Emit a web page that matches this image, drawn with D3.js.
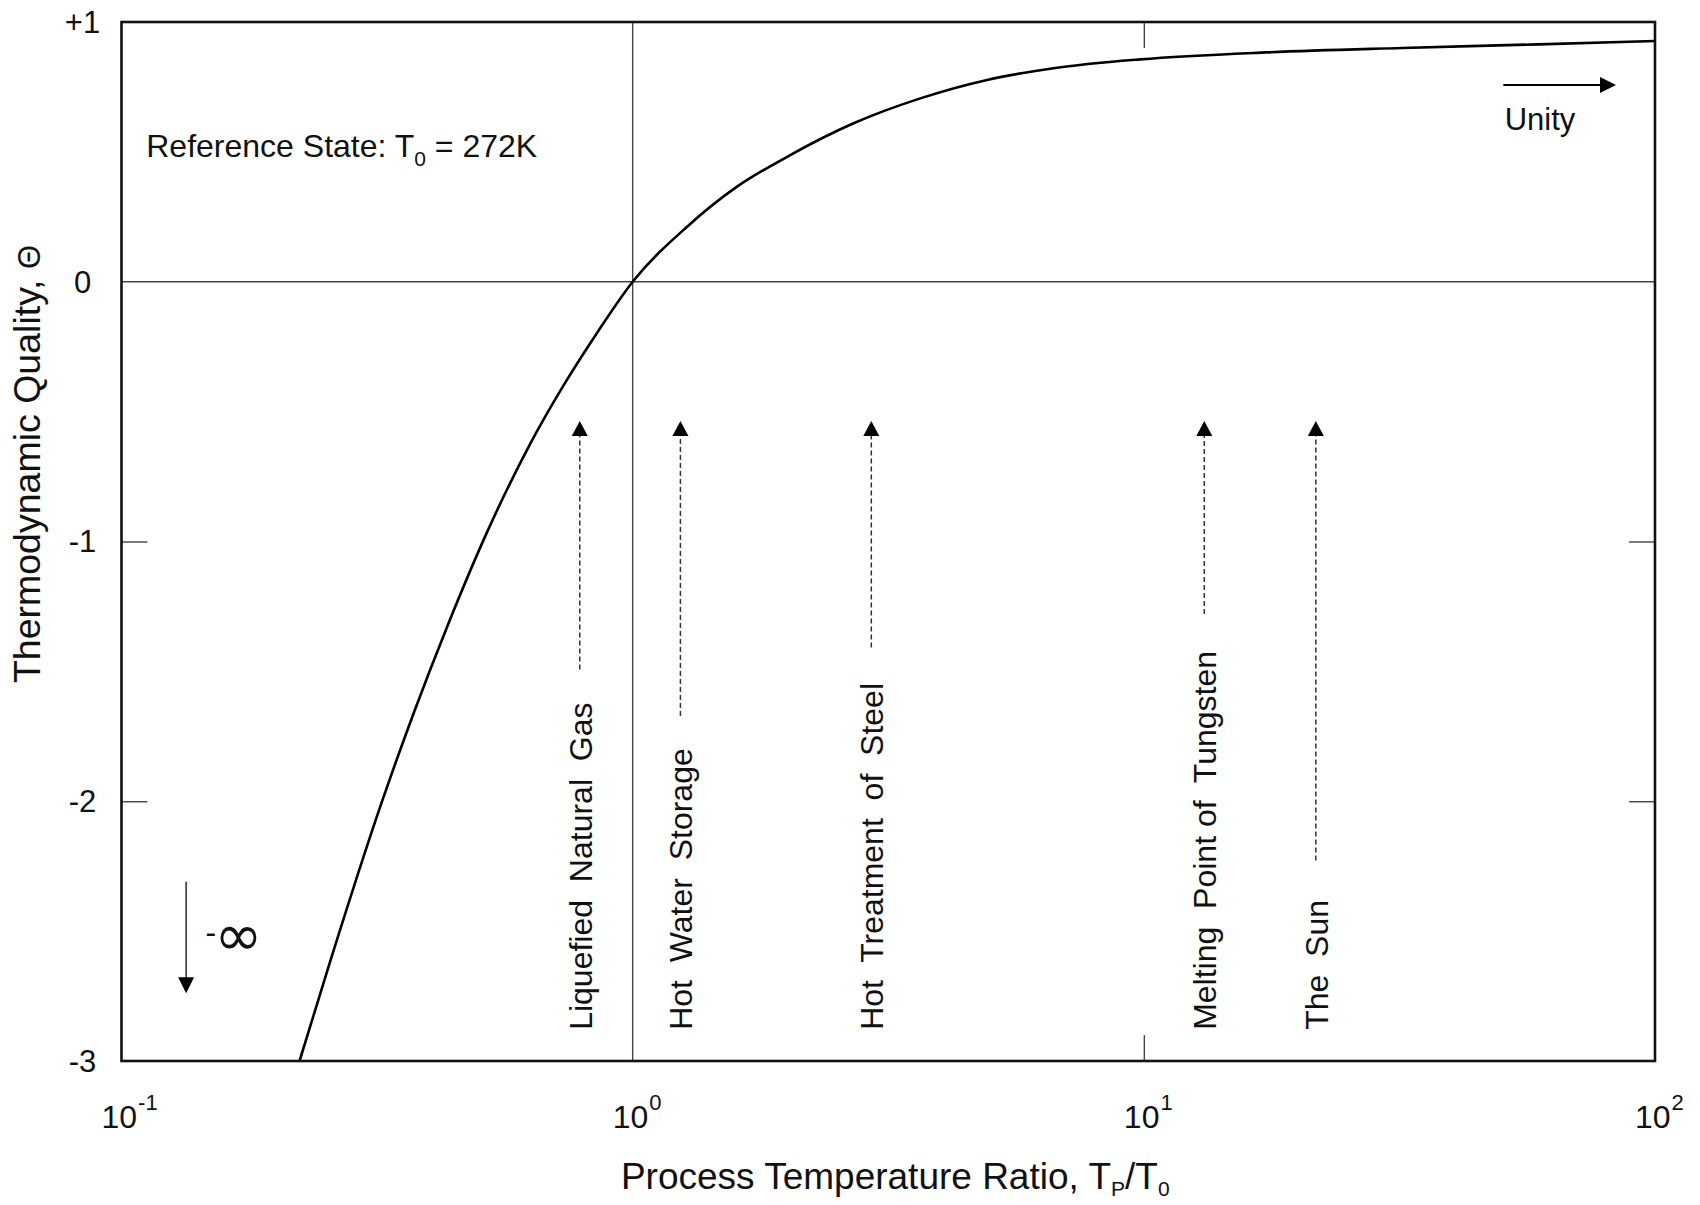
<!DOCTYPE html>
<html>
<head>
<meta charset="utf-8">
<script src="https://cdn.jsdelivr.net/npm/d3@7"></script>
<style>
  html, body { margin: 0; padding: 0; background: #fff; }
  svg { display: block; font-family: "Liberation Sans", Arial, sans-serif; }
</style>
</head>
<body>
<svg id="chart" width="1700" height="1205"></svg>
<script>
// ---- Data ----
const ratio = [0.223, 0.257, 0.321, 0.373, 0.434, 0.519, 0.631, 0.733, 0.851, 1.0,
               1.278, 1.600, 2.005, 2.705, 3.653, 4.935, 6.66, 9.84, 17.35, 32.0, 59.1, 100];
const theta = [-3.0, -2.606, -2.019, -1.660, -1.326, -0.964, -0.622, -0.398, -0.198, 0,
               0.212, 0.366, 0.481, 0.610, 0.706, 0.777, 0.822, 0.856, 0.883, 0.900, 0.914, 0.927];

const xTickValues = [0.1, 1, 10, 100];
const xTickExponents = ["-1", "0", "1", "2"];
const yTickValues = [1, 0, -1, -2, -3];
const yTickLabels = ["+1", "0", "-1", "-2", "-3"];

const processNames = ["Liquefied  Natural  Gas", "Hot  Water  Storage", "Hot  Treatment  of  Steel",
                      "Melting  Point of  Tungsten", "The  Sun"];
const processRatio = [0.788, 1.240, 2.93, 13.13, 21.7];
const processArrowTop = [-0.536, -0.536, -0.536, -0.536, -0.536];
const processArrowBottom = [-1.493, -1.672, -1.408, -1.279, -2.228];
const processLabelStart = -2.88;

const unityArrow = { x0: 50.5, x1: 83.9, y: 0.757 };
const unityLabel = { x: 50.8, y: 0.584, text: "Unity" };
const negInfArrow = { x: 0.1338, y0: -2.310, y1: -2.739 };
const negInfLabel = { x: 0.146, y: -2.546 };
const refLabel = { x: 0.1118, y: 0.481 };

(function () {
// ---- Layout ----
const svg = d3.select("#chart");
const mLeft = 121.5, mRight = 1655, mTop = 22, mBottom = 1061;
const x = d3.scaleLog().domain([0.1, 100]).range([mLeft, mRight]);
const y = d3.scaleLinear().domain([-3, 1]).range([mBottom, mTop]);
const ink = "#111";

// zero line and unity-ratio line
svg.append("line").attr("x1", x(0.1)).attr("x2", x(100)).attr("y1", y(0)).attr("y2", y(0))
  .attr("stroke", "#444").attr("stroke-width", 1.4);
svg.append("line").attr("x1", x(1)).attr("x2", x(1)).attr("y1", y(1)).attr("y2", y(-3))
  .attr("stroke", "#444").attr("stroke-width", 1.4);

// inner ticks via axes
const tickLen = 26;
const yInner = yTickValues.filter(v => v !== 0 && v !== 1 && v !== -3);
const gl = svg.append("g").attr("transform", `translate(${mLeft},0)`)
  .call(d3.axisRight(y).tickValues(yInner).tickSize(tickLen).tickFormat(""));
const gr = svg.append("g").attr("transform", `translate(${mRight},0)`)
  .call(d3.axisLeft(y).tickValues(yInner).tickSize(tickLen).tickFormat(""));
const gb = svg.append("g").attr("transform", `translate(0,${mBottom})`)
  .call(d3.axisTop(x).tickValues([10]).tickSize(tickLen).tickFormat(""));
const gt = svg.append("g").attr("transform", `translate(0,${mTop})`)
  .call(d3.axisBottom(x).tickValues([10]).tickSize(tickLen).tickFormat(""));
[gl, gr, gb, gt].forEach(g => {
  g.select(".domain").remove();
  g.selectAll(".tick line").attr("stroke", "#444").attr("stroke-width", 1.4);
});

// y tick labels
svg.append("g").selectAll("text").data(yTickValues).join("text")
  .attr("x", mLeft - 39).attr("y", d => y(d)).attr("dy", "0.35em")
  .attr("text-anchor", "middle").attr("font-size", 31).attr("fill", ink)
  .text((d, i) => yTickLabels[i]);

// x tick labels (10 with superscript)
const xl = svg.append("g").selectAll("text").data(xTickValues).join("text")
  .attr("x", d => x(d) - 20).attr("y", 1128)
  .attr("font-size", 32).attr("fill", ink);
xl.append("tspan").text("10");
xl.append("tspan").attr("dy", -18).attr("dx", 1).attr("font-size", 22).text((d, i) => xTickExponents[i]);

// curve
const line = d3.line().x(d => x(d[0])).y(d => y(d[1])).curve(d3.curveMonotoneX);
svg.append("path").datum(ratio.map((r, i) => [r, theta[i]]))
  .attr("d", line).attr("fill", "none").attr("stroke", "#000").attr("stroke-width", 2.6);

// frame
svg.append("rect").attr("x", mLeft).attr("y", mTop).attr("width", mRight - mLeft).attr("height", mBottom - mTop)
  .attr("fill", "none").attr("stroke", "#111").attr("stroke-width", 2.6);

// process arrows
const pg = svg.append("g").selectAll("g").data(processRatio).join("g");
pg.append("line")
  .attr("x1", d => x(d)).attr("x2", d => x(d))
  .attr("y1", (d, i) => y(processArrowBottom[i])).attr("y2", (d, i) => y(processArrowTop[i]) + 12)
  .attr("stroke", "#333").attr("stroke-width", 1.5).attr("stroke-dasharray", "5,3");
pg.append("path")
  .attr("d", (d, i) => {
    const cx = x(d), ty = y(processArrowTop[i]);
    return `M${cx},${ty} L${cx - 8},${ty + 15} L${cx + 8},${ty + 15} Z`;
  })
  .attr("fill", "#000");
pg.append("text")
  .attr("transform", d => `translate(${x(d) + 12},${y(processLabelStart)}) rotate(-90)`)
  .attr("font-size", 32).attr("fill", ink).style("white-space", "pre")
  .text((d, i) => processNames[i]);

// unity arrow
svg.append("line").attr("x1", x(unityArrow.x0)).attr("x2", x(unityArrow.x1) - 14)
  .attr("y1", y(unityArrow.y)).attr("y2", y(unityArrow.y)).attr("stroke", "#000").attr("stroke-width", 2);
svg.append("path").attr("d", () => {
  const tx = x(unityArrow.x1), ty = y(unityArrow.y);
  return `M${tx},${ty} L${tx - 16},${ty - 8} L${tx - 16},${ty + 8} Z`;
}).attr("fill", "#000");
svg.append("text").attr("x", x(unityLabel.x)).attr("y", y(unityLabel.y))
  .attr("font-size", 31).attr("fill", ink).text(unityLabel.text);

// -infinity arrow
svg.append("line").attr("x1", x(negInfArrow.x)).attr("x2", x(negInfArrow.x))
  .attr("y1", y(negInfArrow.y0)).attr("y2", y(negInfArrow.y1) - 14)
  .attr("stroke", "#333").attr("stroke-width", 1.6);
svg.append("path").attr("d", () => {
  const tx = x(negInfArrow.x), ty = y(negInfArrow.y1);
  return `M${tx},${ty} L${tx - 8},${ty - 16} L${tx + 8},${ty - 16} Z`;
}).attr("fill", "#000");
const ni = svg.append("text").attr("x", x(negInfLabel.x)).attr("y", y(negInfLabel.y))
  .attr("fill", ink);
ni.append("tspan").attr("font-size", 32).text("-");
ni.append("tspan").attr("font-size", 58).attr("font-family", "DejaVu Sans").attr("dy", 12).attr("dx", -2).text("∞");

// reference state label
const rl = svg.append("text").attr("x", x(refLabel.x)).attr("y", y(refLabel.y))
  .attr("font-size", 32).attr("fill", ink);
rl.append("tspan").text("Reference State: T");
rl.append("tspan").attr("font-size", 21).attr("dy", 9).text("0");
rl.append("tspan").attr("dy", -9).text(" = 272K");

// x axis title
const xt = svg.append("text").attr("x", (mLeft + mRight) / 2 + 7).attr("y", 1189)
  .attr("text-anchor", "middle").attr("font-size", 37).attr("fill", ink);
xt.append("tspan").text("Process Temperature Ratio, T");
xt.append("tspan").attr("font-size", 21).attr("dy", 7).text("P");
xt.append("tspan").attr("dy", -7).text("/T");
xt.append("tspan").attr("font-size", 21).attr("dy", 7).text("0");

// y axis title
const yt = svg.append("text").attr("transform", "translate(40,464) rotate(-90)")
  .attr("text-anchor", "middle").attr("font-size", 37.5).attr("fill", ink);
yt.append("tspan").text("Thermodynamic Quality, ");
yt.append("tspan").attr("font-size", 31).text("Θ");
})();
</script>
</body>
</html>
